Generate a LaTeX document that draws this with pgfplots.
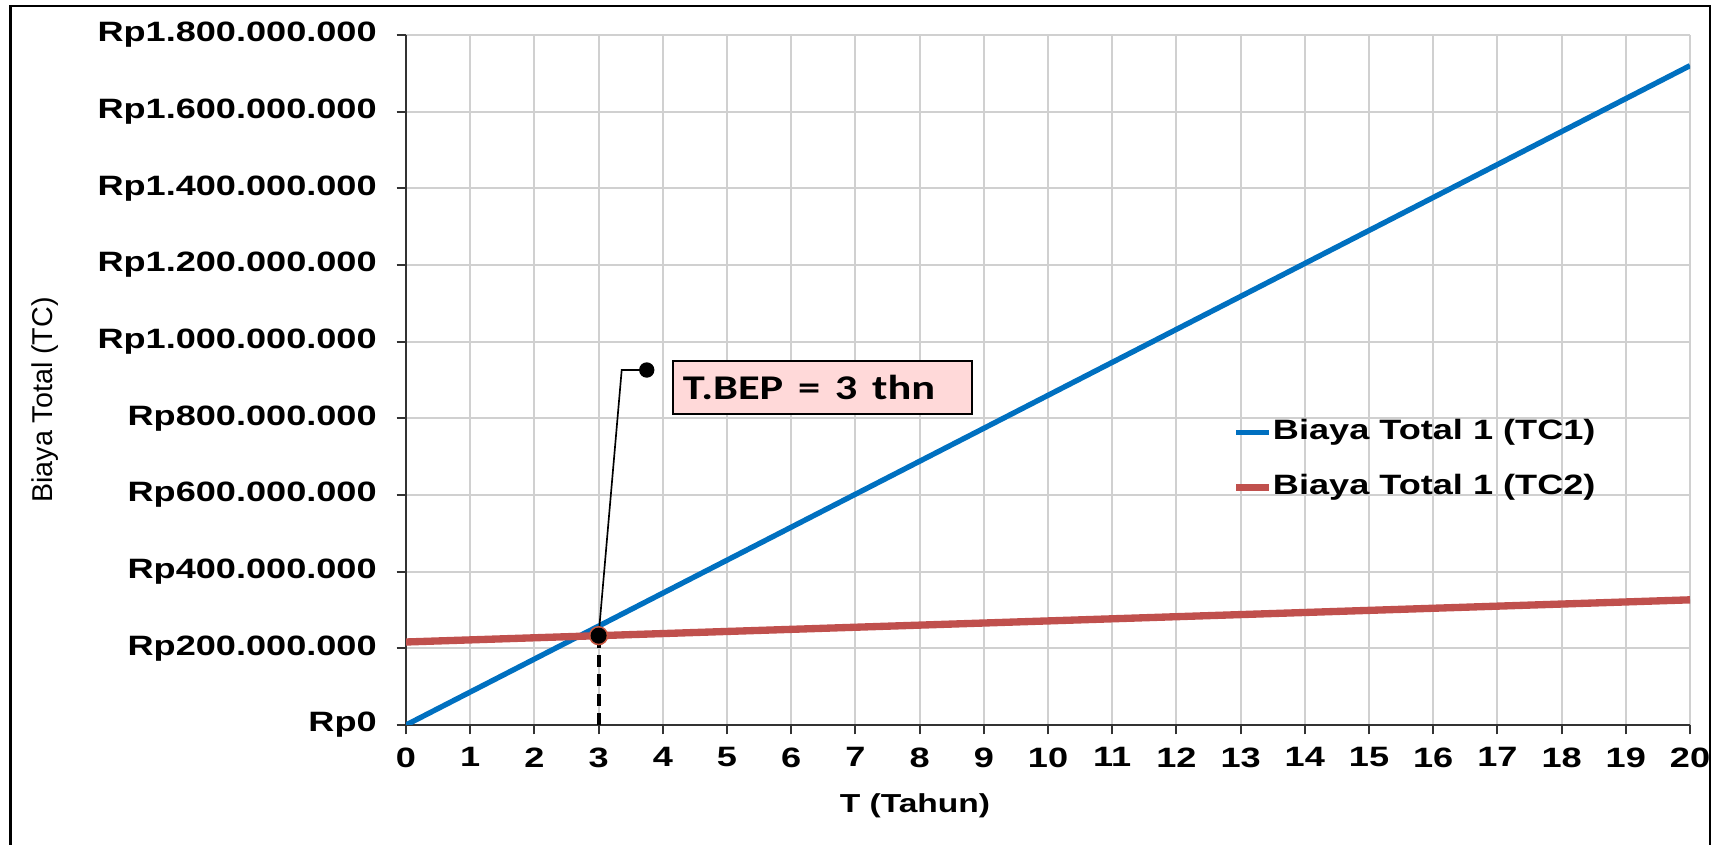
\documentclass[border=0pt]{standalone}
\usepackage{pgfplots}
\pgfplotsset{compat=1.18}
\usepackage{fontspec}
\usepackage{graphicx}
\setmainfont{Liberation Sans}
\newfontfamily\calfont{Carlito}
\definecolor{tcblue}{HTML}{0070C0}
\definecolor{tcred}{HTML}{C0504D}
\definecolor{gridc}{HTML}{D0D0D0}
\definecolor{boxfill}{HTML}{FFD9D9}
\newcommand{\sx}[1]{\scalebox{1.29}[1]{#1}}
\begin{document}
\begin{tikzpicture}[x=1pt,y=1pt]
\useasboundingbox (0,0) rectangle (513.9,253.5);
\draw[line width=0.8pt] (3.2,-3) -- (3.2,251.7) -- (513.0,251.7) -- (513.0,-3);
\begin{axis}[
  at={(121.8pt,36pt)}, anchor=south west,
  scale only axis, width=385.2pt, height=207pt,
  xmin=0, xmax=20, ymin=0, ymax=1800000000,
  axis x line=bottom, axis y line=left,
  axis line style={-, line width=0.6pt, black!80},
  xtick={0,1,2,3,4,5,6,7,8,9,10,11,12,13,14,15,16,17,18,19,20},
  ytick={0,200000000,400000000,600000000,800000000,1000000000,1200000000,1400000000,1600000000,1800000000},
  yticklabels={\sx{Rp0},\sx{Rp200.000.000},\sx{Rp400.000.000},\sx{Rp600.000.000},\sx{Rp800.000.000},\sx{Rp1.000.000.000},\sx{Rp1.200.000.000},\sx{Rp1.400.000.000},\sx{Rp1.600.000.000},\sx{Rp1.800.000.000}},
  xticklabel={\sx{\pgfmathprintnumber[assume math mode=true]{\tick}}},
  scaled y ticks=false,
  grid=major, major grid style={gridc, line width=0.6pt},
  tick align=outside, major tick length=2.8pt,
  tick style={black!80, line width=0.6pt},
  yticklabel style={font=\bfseries\fontsize{8.4}{10}\selectfont, anchor=east, inner sep=0pt},
  xticklabel style={font=\bfseries\fontsize{8.4}{10}\selectfont, anchor=north, inner sep=0pt},
  yticklabel shift=5.8pt,
  xticklabel shift=3.8pt,
  ylabel={Biaya Total (TC)},
  ylabel style={at={(axis description cs:-0.2812,0.471)}, anchor=center, font=\fontsize{8.6}{10}\selectfont},
  xlabel={\sx{T (Tahun)}},
  xlabel style={at={(axis description cs:0.3964,-0.1174)}, anchor=center, font=\bfseries\fontsize{7.8}{9}\selectfont},
  legend style={at={(axis description cs:0.6433,0.3839)}, anchor=west, draw=none, fill=none,
    inner sep=0pt, row sep=8.6pt, font=\bfseries\fontsize{8.4}{10}\selectfont,
    nodes={inner sep=0pt, text height=6pt, text depth=2pt},
    /tikz/every even column/.append style={column sep=0pt}},
  legend image code/.code={\draw[#1] (0pt,0pt) -- (9.9pt,0pt);},
  legend cell align=left,
]
\addplot[tcblue, line width=1.6pt] coordinates {
  (0,0) (1,86000000) (2,172000000) (3,258000000) (4,344000000) (5,430000000)
  (6,516000000) (7,602000000) (8,688000000) (9,774000000) (10,860000000)
  (11,946000000) (12,1032000000) (13,1118000000) (14,1204000000) (15,1290000000)
  (16,1376000000) (17,1462000000) (18,1548000000) (19,1634000000) (20,1720000000)};
\addlegendentry{\sx{Biaya Total 1 (TC1)}}
\addplot[tcred, line width=2.2pt] coordinates {
  (0,216500000) (1,222000000) (2,227500000) (3,233000000) (4,238500000) (5,244000000)
  (6,249500000) (7,255000000) (8,260500000) (9,266000000) (10,271500000)
  (11,277000000) (12,282500000) (13,288000000) (14,293500000) (15,299000000)
  (16,304500000) (17,310000000) (18,315500000) (19,321000000) (20,326500000)};
\addlegendentry{\sx{Biaya Total 1 (TC2)}}
\addplot[black, line width=1.2pt, dash pattern=on 3.6pt off 2.2pt, forget plot] coordinates {(3,0) (3,233000000)};
\addplot[black, line width=0.5pt, forget plot] coordinates {(3,233000000) (3.36,926000000) (3.75,926000000)};
\addplot[only marks, mark=*, mark size=2.7pt, color=tcred!85!orange, forget plot] coordinates {(3,233000000)};
\addplot[only marks, mark=*, mark size=2.2pt, black, forget plot] coordinates {(3,233000000)};
\addplot[only marks, mark=*, mark size=2.1pt, black, forget plot] coordinates {(3.75,926000000)};
\node[draw=black, line width=0.6pt, fill=boxfill, anchor=north west,
      minimum height=15.9pt, text width=83.7pt, align=left, inner xsep=3pt, inner ysep=0pt,
      font=\calfont\bfseries\fontsize{10.4}{12}\selectfont]
  at (axis cs:4.143,952000000) {\scalebox{1.28}[1]{T.BEP = 3 thn}};
\end{axis}
\end{tikzpicture}
\end{document}
